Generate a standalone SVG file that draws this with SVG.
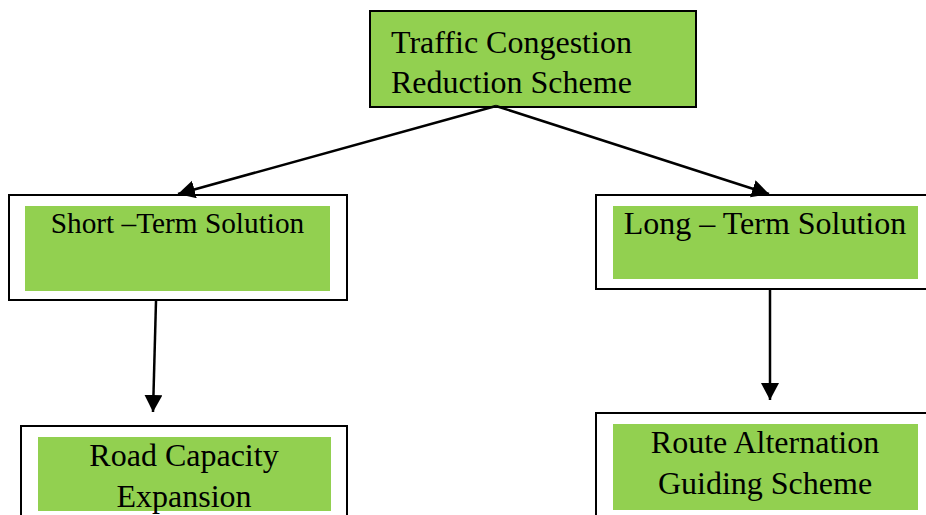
<svg xmlns="http://www.w3.org/2000/svg" width="926" height="515" viewBox="0 0 926 515">
  <style>
    .frame { fill: #ffffff; stroke: #000000; stroke-width: 2; }
    .green { fill: #92d050; }
    .boxed { fill: #92d050; stroke: #000000; stroke-width: 2; }
    .label { font-family: "Liberation Serif", "Times New Roman", serif; font-size: 32px; fill: #000000; }
    .mid { text-anchor: middle; }
    .link { stroke: #000000; stroke-width: 2.5; fill: none; marker-end: url(#tip); }
  </style>
  <defs>
    <marker id="tip" markerUnits="userSpaceOnUse" markerWidth="20" markerHeight="20" refX="17" refY="9" orient="auto">
      <path d="M0,0 L17,9 L0,18 z" fill="#000000"/>
    </marker>
  </defs>
  <rect width="926" height="515" fill="#ffffff"/>

  <!-- root -->
  <g id="root">
    <rect class="boxed" x="370" y="11" width="326" height="96"/>
    <text class="label" x="391" y="53">Traffic Congestion</text>
    <text class="label" x="391" y="93">Reduction Scheme</text>
  </g>

  <!-- short-term branch -->
  <g id="short-term">
    <rect class="frame" x="9" y="195" width="338" height="105"/>
    <rect class="green" x="25" y="206" width="305" height="85"/>
    <text class="label mid" x="177.5" y="233" style="font-size:29.3px">Short –Term Solution</text>
  </g>

  <!-- long-term branch -->
  <g id="long-term">
    <rect class="frame" x="596" y="195" width="340" height="94"/>
    <rect class="green" x="613" y="206" width="305" height="73"/>
    <text class="label mid" x="765" y="234">Long – Term Solution</text>
  </g>

  <!-- road capacity -->
  <g id="road-capacity">
    <rect class="frame" x="21" y="426" width="326" height="100"/>
    <rect class="green" x="38" y="437" width="293" height="74"/>
    <text class="label mid" x="184" y="466">Road Capacity</text>
    <text class="label mid" x="184" y="507">Expansion</text>
  </g>

  <!-- route alternation -->
  <g id="route-alternation">
    <rect class="frame" x="596" y="413" width="340" height="110"/>
    <rect class="green" x="613" y="424" width="305" height="86"/>
    <text class="label mid" x="765" y="453">Route Alternation</text>
    <text class="label mid" x="765" y="494">Guiding Scheme</text>
  </g>

  <!-- connectors -->
  <g id="connectors">
    <line class="link" x1="496" y1="106" x2="178" y2="194"/>
    <line class="link" x1="496" y1="106" x2="769" y2="194"/>
    <line class="link" x1="156" y1="301" x2="153" y2="412"/>
    <line class="link" x1="770" y1="290" x2="770" y2="400"/>
  </g>
</svg>
